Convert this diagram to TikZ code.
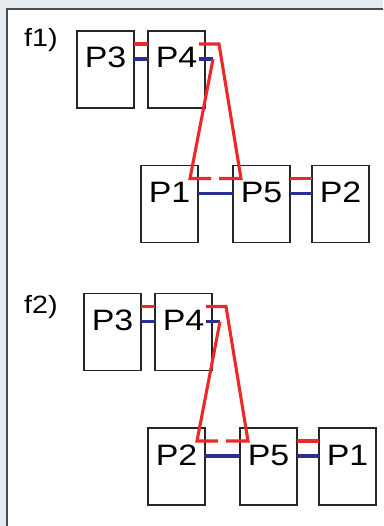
\documentclass[tikz,border=0pt]{standalone}
\usepackage{fontspec}
\setmainfont{Liberation Sans}
\newfontfamily\boxfont[FakeStretch=1.15]{Liberation Sans}
\usetikzlibrary{calc, positioning}
\definecolor{panelbg}{RGB}{229,234,238}
\definecolor{linkred}{RGB}{236,40,40}
\definecolor{linkblue}{RGB}{42,46,140}
\tikzset{
  protein/.style={draw=black!85, line width=1.4pt, minimum width=57pt, inner xsep=0pt, inner ysep=0pt,
    outer sep=0pt, text height=37pt, text depth=40pt, font=\boxfont\fontsize{29.5}{31}\selectfont},
  panellabel/.style={anchor=base west, inner sep=0pt, font=\boxfont\fontsize{25}{27}\selectfont},
  redlink/.style={linkred, line width=3.1pt, line join=miter},
  bluelink/.style={linkblue, line width=3.1pt},
}

\begin{document}
\begin{tikzpicture}[x=1pt, y=-1pt]
    \useasboundingbox (0,0) rectangle (383,526);
    \clip (0,0) rectangle (383,526);
    \fill[panelbg] (0,0) rectangle (383,526);
    \draw[fill=white, draw=black!70, line width=2.2pt] (7,9) rectangle (400,560);

    \foreach \f/\dx/\dy/\ly/\pa/\pb in {f1/0/0/47/P1/P2, f2/7/262.5/313/P2/P1} {
        \node[panellabel] (\f-lab) at (24,\ly) {\f)};
        \begin{scope}[shift={(\dx,\dy)}]
            % upper pair
            \node[protein] (\f-p3) at (105.5,69.5) {P3};
            \node[protein, right=14pt of \f-p3] (\f-p4) {P4};
            % lower row
            \node[protein] (\f-pa) at (169.5,204) {\pa};
            \node[protein, right=35pt of \f-pa] (\f-p5) {P5};
            \node[protein, right=22pt of \f-p5] (\f-pb) {\pb};
        \end{scope}

        \draw[redlink] ($(\f-p3.north east)+(0,13)$) -- ($(\f-p4.north west)+(0,13)$);
        \draw[bluelink] ($(\f-p3.north east)+(0,28)$) -- ($(\f-p4.north west)+(0,28)$);

        % loop from P4 down to the lower row
        \coordinate (\f-r1) at ($(\f-p4.north east)+(-6,13)$);
        \coordinate (\f-b1) at ($(\f-p4.north east)+(-6,28)$);
        \coordinate (\f-b2) at ($(\f-p4.north east)+(8,28)$);
        \draw[bluelink] (\f-b1) -- (\f-b2);
        \draw[redlink] (\f-r1) -- ++(20,0) -- ($(\f-p5.north west)+(8,13)$) -- ++(-22,0);
        \draw[redlink] (\f-b2) -- ($(\f-pa.north east)+(-8,13)$) -- ++(21,0);

        \draw[bluelink] ($(\f-pa.north east)+(0,28)$) -- ($(\f-p5.north west)+(0,28)$);
        \draw[redlink] ($(\f-p5.north east)+(0,13)$) -- ($(\f-pb.north west)+(0,13)$);
        \draw[bluelink] ($(\f-p5.north east)+(0,28)$) -- ($(\f-pb.north west)+(0,28)$);
    }
\end{tikzpicture}
\end{document}
